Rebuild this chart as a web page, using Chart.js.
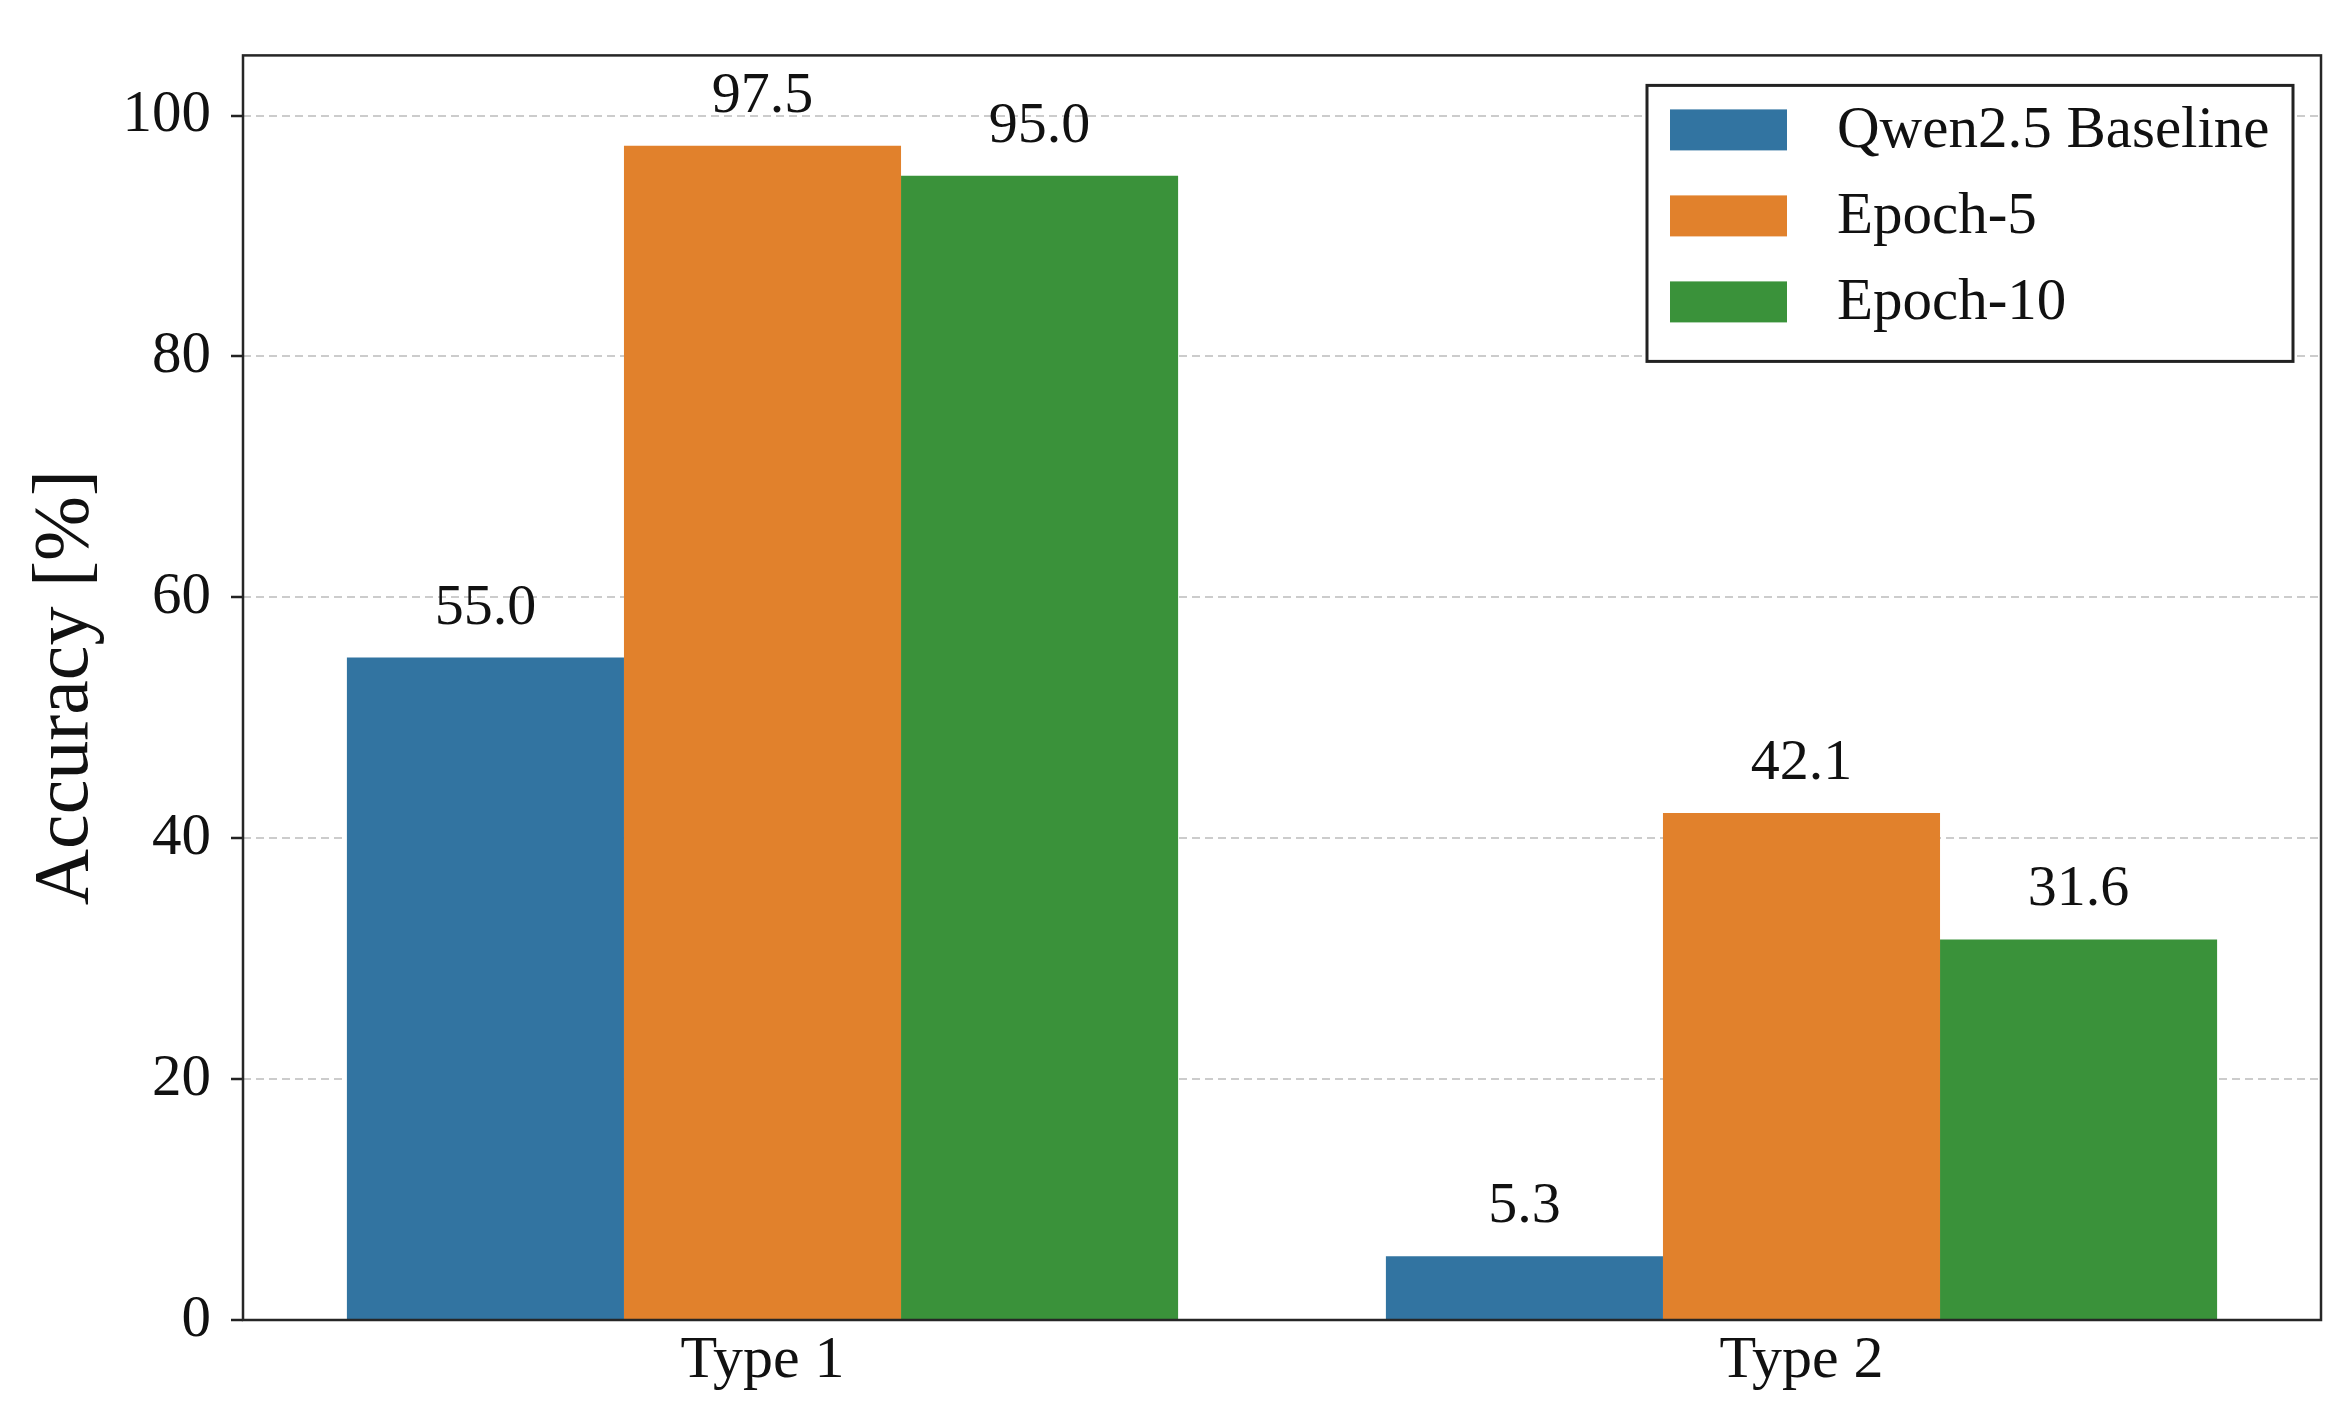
<!DOCTYPE html>
<html>
<head>
<meta charset="utf-8">
<script src="https://cdn.jsdelivr.net/npm/chart.js@4.4.1/dist/chart.umd.min.js"></script>
<style>
  html, body { margin: 0; padding: 0; background: #ffffff; }
  #wrap { width: 2344px; height: 1427px; position: relative; }
</style>
</head>
<body>
<div id="wrap"><canvas id="c"></canvas></div>
<script>
// ---- data ----
const categories = ['Type 1', 'Type 2'];
const seriesNames = ['Qwen2.5 Baseline', 'Epoch-5', 'Epoch-10'];
const baselineValues = [55.0, 5.3];
const epoch5Values = [97.5, 42.1];
const epoch10Values = [95.0, 31.6];
const yTicks = [0, 20, 40, 60, 80, 100];
const yMax = 105;
const seriesColors = ['#3274a1', '#e1812c', '#3a923a'];

const FONT = "'Liberation Serif', 'Times New Roman', serif";

const frameLegendLabels = {
  id: 'frameLegendLabels',
  afterDraw(chart) {
    const ctx = chart.ctx;
    const ca = chart.chartArea;
    ctx.save();
    // value labels
    ctx.fillStyle = '#111';
    ctx.font = "58px " + FONT;
    ctx.textAlign = 'center';
    ctx.textBaseline = 'alphabetic';
    chart.data.datasets.forEach((ds, di) => {
      const meta = chart.getDatasetMeta(di);
      meta.data.forEach((el, i) => {
        ctx.fillText(Number(ds.data[i]).toFixed(1), el.x, el.y - 34);
      });
    });
    // frame
    ctx.strokeStyle = '#262626';
    ctx.lineWidth = 2.5;
    ctx.strokeRect(ca.left, ca.top, ca.right - ca.left, ca.bottom - ca.top);
    // legend
    const bw = 646, bh = 276;
    const bx = ca.right - 28 - bw, by = ca.top + 30;
    ctx.fillStyle = '#ffffff';
    ctx.fillRect(bx, by, bw, bh);
    ctx.strokeStyle = '#222';
    ctx.lineWidth = 3;
    ctx.strokeRect(bx, by, bw, bh);
    ctx.font = "59px " + FONT;
    ctx.textAlign = 'left';
    chart.data.datasets.forEach((ds, di) => {
      const cy = by + 44 + di * 86;
      ctx.fillStyle = ds.backgroundColor;
      ctx.fillRect(bx + 23, cy - 20, 117, 41);
      ctx.fillStyle = '#111';
      ctx.fillText(ds.label, bx + 190, cy + 18);
    });
    ctx.restore();
  }
};

new Chart(document.getElementById('c'), {
  type: 'bar',
  data: {
    labels: categories,
    datasets: [
      { label: seriesNames[0], data: baselineValues, backgroundColor: seriesColors[0] },
      { label: seriesNames[1], data: epoch5Values, backgroundColor: seriesColors[1] },
      { label: seriesNames[2], data: epoch10Values, backgroundColor: seriesColors[2] }
    ]
  },
  options: {
    responsive: true,
    maintainAspectRatio: false,
    animation: false,
    devicePixelRatio: 1,
    layout: { padding: { top: 52, right: 23, left: 0, bottom: 0 } },
    datasets: { bar: { categoryPercentage: 0.8, barPercentage: 1.0, borderWidth: 0 } },
    plugins: { legend: { display: false }, tooltip: { enabled: false } },
    scales: {
      x: {
        offset: true,
        grid: { display: false },
        border: { display: false },
        ticks: { color: '#111', font: { family: FONT, size: 60, lineHeight: 1.0 }, padding: 3, maxRotation: 0 },
        afterFit(s) { s.height = 107; }
      },
      y: {
        min: 0,
        max: yMax,
        z: 1,
        afterBuildTicks(s) { s.ticks = yTicks.map(v => ({ value: v })); },
        afterFit(s) { s.width = 243; },
        grid: {
          color: (c) => (c.tick && c.tick.value === 0) ? 'rgba(0,0,0,0)' : '#cccccc',
          lineWidth: 2,
          drawTicks: true,
          tickLength: 12,
          tickColor: '#222',
          tickWidth: 2.5,
          tickBorderDash: []
        },
        border: { display: false, dash: [8, 5] },
        ticks: { color: '#111', font: { family: FONT, size: 59 }, padding: 20 },
        title: {
          display: true,
          text: 'Accuracy [%]',
          color: '#111',
          font: { family: FONT, size: 78, lineHeight: 1 },
          padding: { top: 28, bottom: 0 }
        }
      }
    }
  },
  plugins: [frameLegendLabels]
});
</script>
</body>
</html>
